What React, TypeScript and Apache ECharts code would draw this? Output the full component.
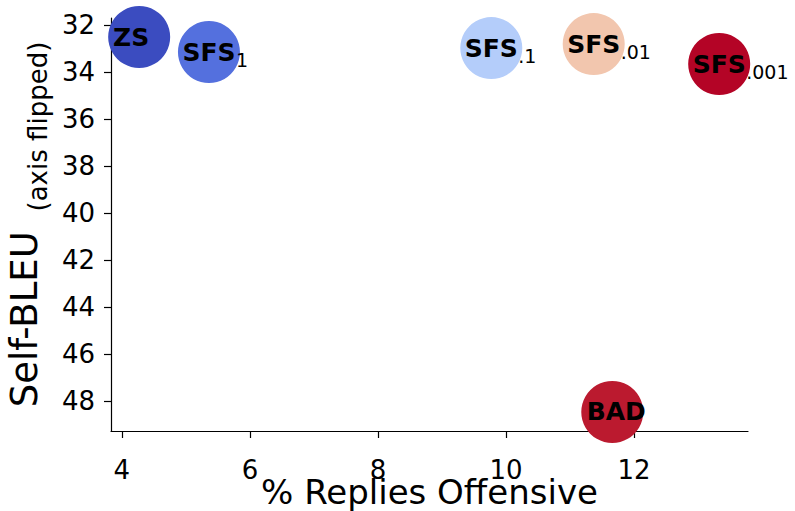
import React, { useEffect, useRef } from "react";
import * as echarts from "echarts";

const methods = ["ZS", "SFS", "SFS", "SFS", "SFS", "BAD"];
const subscripts = ["", "1", ".1", ".01", ".001", ""];
const offensive = [4.27, 5.36, 9.77, 11.37, 13.33, 11.66];
const selfBleu = [32.51, 33.15, 32.98, 32.81, 33.66, 48.47];
const colors = ["#3b4cc0", "#5470de", "#b4cdfa", "#f2c6ae", "#b40426", "#bb1a2f"];
const xTicks = [4, 6, 8, 10, 12];
const yTicks = [32, 34, 36, 38, 40, 42, 44, 46, 48];
const labelNudgeX = [-8, 0, 0, 0, 0, 4];

const FONT = "'DejaVu Sans', sans-serif";

export default function App() {
  const ref = useRef<HTMLDivElement>(null);
  useEffect(() => {
    if (!ref.current) return;
    const chart = echarts.init(ref.current, null, { renderer: "svg" });
    const mainData = methods.map((m, i) => ({
      name: m,
      value: [offensive[i], selfBleu[i]],
      itemStyle: { color: colors[i], opacity: 1 },
      label: { offset: [labelNudgeX[i], 0] },
    }));
    const subData = methods
      .map((m, i) => ({ name: subscripts[i], value: [offensive[i], selfBleu[i]] }))
      .filter((d) => d.name !== "");
    chart.setOption({
      animation: false,
      grid: { left: 111, right: 47, top: 18, bottom: 80, outerBoundsMode: "none", containLabel: false },
      xAxis: {
        type: "value",
        min: 3.83,
        max: 13.78,
        name: "% Replies Offensive",
        nameLocation: "middle",
        nameGap: 41,
        nameMoveOverlap: false,
        nameTextStyle: { fontFamily: FONT, fontSize: 34, color: "#000", lineHeight: 40 },
        axisLine: { show: true, lineStyle: { color: "#000", width: 1.2 } },
        axisTick: { show: true, customValues: xTicks, length: 7, lineStyle: { color: "#000", width: 1.2 } },
        axisLabel: { customValues: xTicks, fontFamily: FONT, fontSize: 26, color: "#000", margin: 26 },
        splitLine: { show: false },
      },
      yAxis: {
        type: "value",
        inverse: true,
        min: 31.7,
        max: 49.28,
        name: "{b|Self-BLEU} {s|(axis flipped)}",
        nameLocation: "middle",
        nameRotate: 90,
        nameGap: 59,
        nameTextStyle: {
          color: "#000",
          fontFamily: FONT,
          rich: {
            b: { fontFamily: FONT, fontSize: 37, lineHeight: 40, color: "#000" },
            s: { fontFamily: FONT, fontSize: 26, lineHeight: 26, padding: [28, 0, 0, 16], color: "#000" },
          },
        },
        axisLine: { show: true, lineStyle: { color: "#000", width: 1.2 } },
        axisTick: { show: true, customValues: yTicks, length: 7, lineStyle: { color: "#000", width: 1.2 } },
        axisLabel: { customValues: yTicks, fontFamily: FONT, fontSize: 26, color: "#000", margin: 16 },
        splitLine: { show: false },
      },
      series: [
        {
          type: "scatter",
          clip: false,
          symbolSize: 62,
          data: mainData,
          itemStyle: { opacity: 1 },
          label: {
            show: true,
            position: "inside",
            formatter: "{b}",
            fontFamily: FONT,
            fontWeight: "bold",
            fontSize: 25,
            color: "#000",
          },
          z: 3,
        },
        {
          type: "scatter",
          clip: false,
          silent: true,
          symbolSize: 1,
          itemStyle: { color: "rgba(0,0,0,0)", opacity: 1 },
          data: subData,
          label: {
            show: true,
            position: "inside",
            align: "left",
            offset: [27, 8],
            formatter: "{b}",
            fontFamily: FONT,
            fontSize: 19,
            color: "#000",
          },
          z: 4,
        },
      ],
    });
    return () => chart.dispose();
  }, []);
  return (
    <div
      ref={ref}
      style={{ position: "fixed", left: 0, top: 0, width: 795, height: 511, background: "#fff" }}
    />
  );
}
